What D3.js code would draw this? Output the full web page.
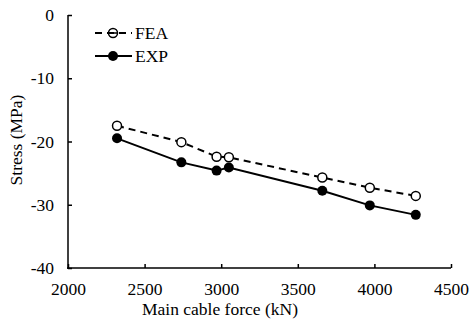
<!DOCTYPE html>
<html><head><meta charset="utf-8">
<script src="https://cdn.jsdelivr.net/npm/d3@7"></script>
<style>body{margin:0;background:#fff}svg{display:block}text{font-family:"Liberation Serif","Times New Roman",serif;fill:#000}</style>
</head><body>
<svg id="c" width="470" height="325"></svg>
<script>
const forceKN = [2320, 2740, 2970, 3050, 3660, 3970, 4270];
const feaStress = [-17.5, -20.1, -22.4, -22.5, -25.7, -27.3, -28.6];
const expStress = [-19.5, -23.3, -24.6, -24.1, -27.8, -30.1, -31.6];
const xTicks = [2000, 2500, 3000, 3500, 4000, 4500];
const yTicks = [0, -10, -20, -30, -40];

const FS = 17.5;
const svg = d3.select("#c");
const L = 68, R = 451, T = 15, B = 268;
const x = d3.scaleLinear().domain([2000, 4500]).range([L, R]);
const y = d3.scaleLinear().domain([-40, 0]).range([B, T]);

const xAxis = svg.append("g").attr("transform", `translate(0,${B})`)
  .call(d3.axisBottom(x).tickValues(xTicks).tickSizeInner(-4).tickSizeOuter(0).tickPadding(15).tickFormat(d3.format("d")));
const yAxis = svg.append("g").attr("transform", `translate(${L},0)`)
  .call(d3.axisLeft(y).tickValues(yTicks).tickSizeInner(-4).tickSizeOuter(0).tickPadding(14).tickFormat(d => d));
[xAxis, yAxis].forEach(a => {
  a.select(".domain").attr("stroke", "#000").attr("stroke-width", 1.5);
  a.selectAll(".tick line").attr("stroke", "#000").attr("stroke-width", 1.5);
  a.selectAll("text").attr("font-size", FS).attr("font-family", '"Liberation Serif",serif').attr("fill", "#000");
});
xAxis.select(".domain").attr("d", `M${L-1},0H${R}`);
yAxis.select(".domain").attr("d", `M0,${T}V${B+1}`);

svg.append("text").attr("x", 220).attr("y", 315).attr("text-anchor", "middle")
  .attr("font-size", FS).text("Main cable force (kN)");
svg.append("text").attr("transform", `translate(22,140) rotate(-90)`).attr("text-anchor", "middle")
  .attr("font-size", FS).text("Stress (MPa)");

const line = d3.line().x(d => x(d[0])).y(d => y(d[1]));
const fea = forceKN.map((f, i) => [f, feaStress[i]]);
const exp = forceKN.map((f, i) => [f, expStress[i]]);

svg.append("path").datum(fea).attr("d", line).attr("fill", "none").attr("stroke", "#000")
  .attr("stroke-width", 2).attr("stroke-dasharray", "7,5");
svg.append("path").datum(exp).attr("d", line).attr("fill", "none").attr("stroke", "#000").attr("stroke-width", 2);

svg.selectAll(".fea").data(fea).enter().append("circle")
  .attr("cx", d => x(d[0])).attr("cy", d => y(d[1])).attr("r", 4.5)
  .attr("fill", "#fff").attr("stroke", "#000").attr("stroke-width", 1.5);
svg.selectAll(".exp").data(exp).enter().append("circle")
  .attr("cx", d => x(d[0])).attr("cy", d => y(d[1])).attr("r", 5)
  .attr("fill", "#000");

// legend
const lg = svg.append("g");
lg.append("line").attr("x1", 95).attr("x2", 132).attr("y1", 33).attr("y2", 33)
  .attr("stroke", "#000").attr("stroke-width", 2).attr("stroke-dasharray", "7,5");
lg.append("circle").attr("cx", 113).attr("cy", 33).attr("r", 4.5).attr("fill", "none").attr("stroke", "#000").attr("stroke-width", 1.5);
lg.append("line").attr("x1", 109).attr("x2", 117).attr("y1", 33).attr("y2", 33).attr("stroke", "#000").attr("stroke-width", 1.5);
lg.append("text").attr("x", 135).attr("y", 39).attr("font-size", FS).text("FEA");
lg.append("line").attr("x1", 95).attr("x2", 132).attr("y1", 56).attr("y2", 56)
  .attr("stroke", "#000").attr("stroke-width", 2);
lg.append("circle").attr("cx", 113).attr("cy", 56).attr("r", 5).attr("fill", "#000");
lg.append("text").attr("x", 135).attr("y", 62).attr("font-size", FS).text("EXP");
</script>
</body></html>
